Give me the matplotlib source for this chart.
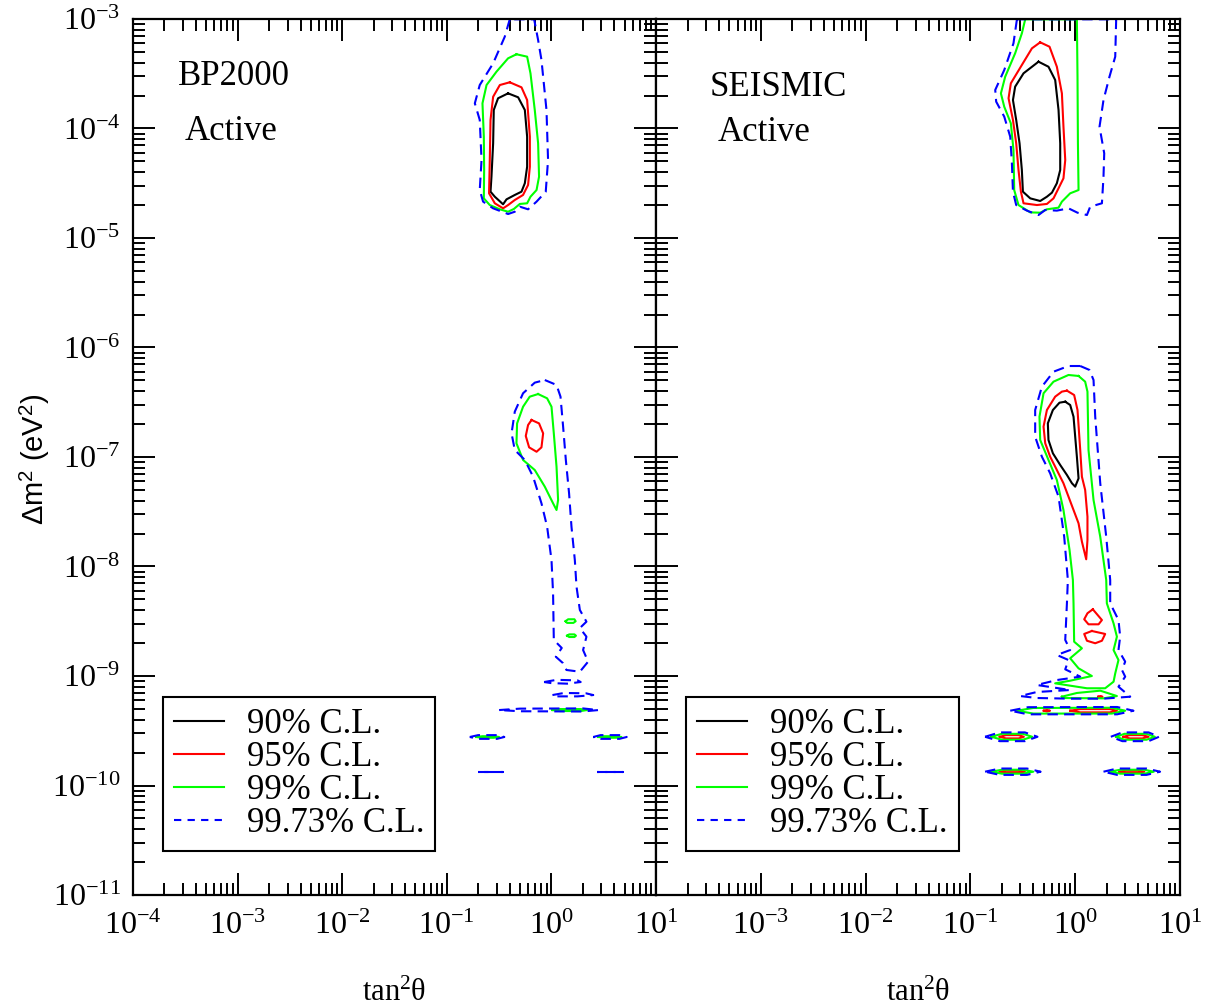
import numpy as np
import matplotlib
matplotlib.use("Agg")
import matplotlib.pyplot as plt
from matplotlib.lines import Line2D
from matplotlib.ticker import LogLocator, NullFormatter

plt.rcParams['font.family'] = ['Liberation Serif', 'DejaVu Serif']
plt.rcParams['mathtext.fontset'] = 'custom'
plt.rcParams['mathtext.rm'] = 'Liberation Serif'
plt.rcParams['mathtext.it'] = 'Liberation Serif:italic'
plt.rcParams['mathtext.sf'] = 'Liberation Sans'

# Contour loops, as (log10 tan^2(theta), log10 dm^2 [eV^2])

# ---- BP2000, active
bp_90 = [
    [(-0.414, -3.679), (-0.318, -3.715), (-0.254, -3.831), (-0.232, -4.075), (-0.232, -4.349),
     (-0.254, -4.500), (-0.286, -4.577), (-0.350, -4.607), (-0.429, -4.647), (-0.462, -4.692),
     (-0.541, -4.623), (-0.582, -4.577), (-0.573, -4.440), (-0.557, -4.135), (-0.551, -3.831),
     (-0.510, -3.724)],
]
bp_95 = [
    [(-0.398, -3.578), (-0.286, -3.624), (-0.232, -3.740), (-0.206, -4.075), (-0.206, -4.349),
     (-0.223, -4.516), (-0.271, -4.607), (-0.350, -4.653), (-0.414, -4.699), (-0.462, -4.729),
     (-0.541, -4.683), (-0.596, -4.592), (-0.589, -4.288), (-0.582, -3.922), (-0.557, -3.710),
     (-0.493, -3.603)],
    [(-0.190, -6.662), (-0.118, -6.693), (-0.079, -6.784), (-0.095, -6.912), (-0.142, -6.952),
     (-0.213, -6.912), (-0.245, -6.808), (-0.223, -6.708)],
]
bp_99 = [
    [(-0.334, -3.322), (-0.232, -3.344), (-0.200, -3.496), (-0.159, -3.831), (-0.127, -4.135),
     (-0.118, -4.440), (-0.142, -4.562), (-0.200, -4.623), (-0.232, -4.683), (-0.302, -4.689),
     (-0.359, -4.735), (-0.414, -4.760), (-0.493, -4.738), (-0.589, -4.699), (-0.646, -4.638),
     (-0.643, -4.379), (-0.646, -4.075), (-0.659, -3.770), (-0.620, -3.603), (-0.525, -3.481),
     (-0.414, -3.359)],
    [(-0.127, -6.425), (-0.041, -6.464), (0.001, -6.541), (0.023, -6.784), (0.049, -7.089),
     (0.064, -7.393), (0.049, -7.484), (0.016, -7.423), (-0.063, -7.271), (-0.159, -7.119),
     (-0.271, -7.027), (-0.334, -6.875), (-0.328, -6.693), (-0.271, -6.541), (-0.207, -6.449)],
    [(0.135, -8.500), (0.160, -8.482), (0.220, -8.482), (0.232, -8.500), (0.210, -8.515), (0.150, -8.515)],
    [(0.150, -8.632), (0.170, -8.620), (0.220, -8.620), (0.235, -8.632), (0.220, -8.644), (0.170, -8.644)],
    [(0.01, -9.311), (0.08, -9.302), (0.28, -9.302), (0.34, -9.311), (0.28, -9.320), (0.08, -9.320)],
    [(-0.72, -9.557), (-0.66, -9.550), (-0.55, -9.550), (-0.50, -9.557), (-0.55, -9.564), (-0.66, -9.564)],
    [(0.45, -9.557), (0.50, -9.550), (0.62, -9.550), (0.67, -9.557), (0.62, -9.564), (0.50, -9.564)],
]
bp_9973 = [
    [(-0.398, -3.003), (-0.446, -3.162), (-0.557, -3.405), (-0.685, -3.603), (-0.732, -3.770),
     (-0.685, -3.922), (-0.668, -4.288), (-0.685, -4.562), (-0.653, -4.668), (-0.557, -4.729),
     (-0.414, -4.781), (-0.350, -4.760), (-0.302, -4.714), (-0.223, -4.738), (-0.142, -4.668),
     (-0.054, -4.577), (-0.032, -4.288), (-0.047, -3.831), (-0.095, -3.374), (-0.127, -3.192),
     (-0.165, -3.003)],
    [(-0.063, -6.297), (0.049, -6.342), (0.087, -6.449), (0.112, -6.723), (0.138, -7.027),
     (0.169, -7.332), (0.192, -7.637), (0.224, -7.941), (0.240, -8.184), (0.272, -8.397),
     (0.335, -8.504), (0.272, -8.562), (0.335, -8.641), (0.303, -8.763), (0.351, -8.869),
     (0.272, -8.961), (0.144, -8.945), (0.109, -8.881), (0.042, -8.824), (0.099, -8.744),
     (0.023, -8.671), (0.016, -8.245), (0.001, -7.941), (-0.041, -7.637), (-0.095, -7.423),
     (-0.175, -7.180), (-0.254, -7.027), (-0.350, -6.936), (-0.381, -6.784), (-0.350, -6.586),
     (-0.271, -6.418), (-0.159, -6.321)],
    [(-0.07, -9.055), (0.05, -9.035), (0.25, -9.040), (0.28, -9.055), (0.15, -9.070), (0.00, -9.065)],
    [(0.01, -9.174), (0.12, -9.155), (0.33, -9.158), (0.40, -9.174), (0.25, -9.186), (0.05, -9.186)],
    [(-0.50, -9.311), (-0.30, -9.298), (0.30, -9.296), (0.45, -9.311), (0.30, -9.324), (-0.30, -9.322)],
    [(-0.78, -9.557), (-0.70, -9.540), (-0.52, -9.540), (-0.45, -9.557), (-0.52, -9.574), (-0.70, -9.574)],
    [(0.40, -9.557), (0.47, -9.540), (0.65, -9.540), (0.72, -9.557), (0.65, -9.574), (0.47, -9.574)],
    [(-0.70, -9.877), (-0.465, -9.877)],
    [(0.44, -9.877), (0.68, -9.877)],
]

# ---- SEISMIC, active
se_90 = [
    [(-0.350, -3.390), (-0.255, -3.436), (-0.191, -3.557), (-0.159, -3.831), (-0.143, -4.135),
     (-0.143, -4.379), (-0.175, -4.500), (-0.222, -4.586), (-0.270, -4.623), (-0.334, -4.662),
     (-0.429, -4.638), (-0.499, -4.577), (-0.509, -4.379), (-0.531, -4.135), (-0.563, -3.922),
     (-0.594, -3.740), (-0.573, -3.618), (-0.493, -3.496)],
    [(-0.095, -6.495), (-0.048, -6.525), (-0.016, -6.632), (0.000, -6.815), (0.016, -6.997),
     (0.032, -7.195), (0.000, -7.271), (-0.031, -7.240), (-0.079, -7.164), (-0.143, -7.073),
     (-0.213, -6.966), (-0.255, -6.845), (-0.261, -6.692), (-0.213, -6.571), (-0.150, -6.504)],
]
se_95 = [
    [(-0.334, -3.213), (-0.245, -3.253), (-0.175, -3.436), (-0.127, -3.679), (-0.112, -3.984),
     (-0.095, -4.288), (-0.112, -4.455), (-0.159, -4.546), (-0.207, -4.638), (-0.270, -4.689),
     (-0.365, -4.699), (-0.493, -4.683), (-0.518, -4.577), (-0.541, -4.379), (-0.563, -4.135),
     (-0.594, -3.922), (-0.636, -3.724), (-0.614, -3.587), (-0.509, -3.420), (-0.413, -3.268)],
    [(-0.079, -6.394), (-0.010, -6.434), (0.022, -6.571), (0.048, -6.936), (0.064, -7.180),
     (0.095, -7.301), (0.117, -7.545), (0.117, -7.758), (0.105, -7.934), (0.064, -7.773),
     (0.032, -7.606), (-0.016, -7.484), (-0.064, -7.362), (-0.112, -7.240), (-0.175, -7.119),
     (-0.239, -6.997), (-0.286, -6.875), (-0.302, -6.723), (-0.270, -6.571), (-0.191, -6.449),
     (-0.127, -6.403)],
    [(0.168, -8.391), (0.255, -8.489), (0.223, -8.528), (0.127, -8.528), (0.086, -8.482), (0.117, -8.427)],
    [(0.159, -8.589), (0.286, -8.616), (0.255, -8.678), (0.191, -8.701), (0.112, -8.678), (0.086, -8.616)],
    [(0.22, -9.189), (0.24, -9.183), (0.26, -9.189), (0.24, -9.195)],
    [(-0.048, -9.317), (0.05, -9.302), (0.33, -9.302), (0.398, -9.317), (0.33, -9.332), (0.05, -9.332)],
    [(-0.30, -9.317), (-0.27, -9.310), (-0.24, -9.317), (-0.27, -9.324)],
    [(-0.72, -9.555), (-0.66, -9.540), (-0.54, -9.540), (-0.49, -9.555), (-0.54, -9.570), (-0.66, -9.570)],
    [(0.46, -9.555), (0.52, -9.540), (0.64, -9.540), (0.70, -9.555), (0.64, -9.570), (0.52, -9.570)],
    [(-0.72, -9.874), (-0.66, -9.864), (-0.54, -9.864), (-0.48, -9.874), (-0.54, -9.884), (-0.66, -9.884)],
    [(0.42, -9.874), (0.48, -9.864), (0.60, -9.864), (0.66, -9.874), (0.60, -9.884), (0.48, -9.884)],
]
se_99 = [
    [(-0.477, -3.003), (-0.509, -3.131), (-0.573, -3.313), (-0.668, -3.527), (-0.709, -3.679),
     (-0.677, -3.801), (-0.614, -3.953), (-0.589, -4.196), (-0.582, -4.562), (-0.541, -4.699),
     (-0.429, -4.766), (-0.334, -4.769), (-0.270, -4.738), (-0.159, -4.723), (-0.127, -4.668),
     (-0.048, -4.592), (0.032, -4.562), (0.026, -4.135), (0.022, -3.527), (0.016, -3.003)],
    [(0.032, -6.260), (0.095, -6.312), (0.117, -6.403), (0.127, -6.936), (0.175, -7.393),
     (0.239, -7.728), (0.296, -8.123), (0.302, -8.336), (0.366, -8.519), (0.398, -8.641),
     (0.366, -8.763), (0.413, -8.854), (0.382, -8.976), (0.366, -9.052), (0.286, -9.112),
     (0.112, -9.112), (-0.191, -9.067), (-0.048, -9.043), (0.159, -9.000), (0.032, -8.930),
     (-0.048, -8.838), (0.064, -8.747), (-0.010, -8.687), (-0.016, -8.336), (-0.022, -8.123),
     (-0.054, -7.849), (-0.112, -7.484), (-0.175, -7.210), (-0.255, -7.027), (-0.334, -6.845),
     (-0.341, -6.632), (-0.302, -6.418), (-0.207, -6.312), (-0.064, -6.251)],
    [(-0.127, -9.189), (0.016, -9.155), (0.239, -9.134), (0.398, -9.183), (0.270, -9.204), (-0.112, -9.201)],
    [(-0.556, -9.317), (-0.40, -9.292), (0.35, -9.290), (0.477, -9.317), (0.35, -9.343), (-0.40, -9.343)],
    [(-0.80, -9.555), (-0.70, -9.528), (-0.50, -9.528), (-0.41, -9.555), (-0.50, -9.582), (-0.70, -9.582)],
    [(0.39, -9.555), (0.47, -9.528), (0.68, -9.528), (0.76, -9.555), (0.68, -9.582), (0.47, -9.582)],
    [(-0.80, -9.874), (-0.70, -9.856), (-0.50, -9.856), (-0.40, -9.874), (-0.50, -9.892), (-0.70, -9.892)],
    [(0.33, -9.874), (0.43, -9.856), (0.66, -9.856), (0.75, -9.874), (0.66, -9.892), (0.43, -9.892)],
]
se_9973 = [
    [(-0.556, -3.003), (-0.589, -3.222), (-0.677, -3.466), (-0.763, -3.648), (-0.754, -3.755),
     (-0.677, -3.892), (-0.620, -4.075), (-0.604, -4.318), (-0.594, -4.577), (-0.563, -4.699),
     (-0.461, -4.750), (-0.350, -4.790), (-0.286, -4.744), (-0.175, -4.750), (-0.064, -4.729),
     (0.022, -4.769), (0.112, -4.790), (0.143, -4.714), (0.255, -4.683), (0.270, -4.440),
     (0.277, -4.227), (0.232, -3.984), (0.270, -3.740), (0.327, -3.527), (0.382, -3.344),
     (0.391, -3.003)],
    [(0.048, -6.169), (0.136, -6.205), (0.175, -6.297), (0.191, -6.632), (0.239, -7.240),
     (0.296, -7.728), (0.334, -8.123), (0.334, -8.336), (0.413, -8.489), (0.429, -8.641),
     (0.413, -8.763), (0.477, -8.869), (0.446, -8.945), (0.477, -9.006), (0.413, -9.098),
     (0.525, -9.189), (0.270, -9.207), (-0.048, -9.207), (-0.366, -9.201), (-0.525, -9.183),
     (-0.366, -9.146), (-0.048, -9.128), (-0.366, -9.082), (-0.175, -9.037), (0.048, -9.006),
     (-0.095, -8.939), (-0.064, -8.854), (-0.175, -8.808), (-0.048, -8.763), (-0.095, -8.671),
     (-0.079, -8.336), (-0.070, -8.123), (-0.105, -7.728), (-0.159, -7.362), (-0.239, -7.149),
     (-0.318, -6.997), (-0.382, -6.815), (-0.382, -6.571), (-0.318, -6.358), (-0.207, -6.221),
     (-0.064, -6.169)],
    [(-0.620, -9.317), (-0.45, -9.285), (0.40, -9.283), (0.556, -9.317), (0.40, -9.350), (-0.45, -9.350)],
    [(-0.86, -9.555), (-0.72, -9.515), (-0.48, -9.515), (-0.36, -9.555), (-0.48, -9.595), (-0.72, -9.595)],
    [(0.34, -9.555), (0.45, -9.515), (0.70, -9.515), (0.80, -9.555), (0.70, -9.595), (0.45, -9.595)],
    [(-0.86, -9.874), (-0.72, -9.845), (-0.46, -9.845), (-0.33, -9.874), (-0.46, -9.903), (-0.72, -9.903)],
    [(0.27, -9.874), (0.40, -9.845), (0.68, -9.845), (0.81, -9.874), (0.68, -9.903), (0.40, -9.903)],
]

cl_labels = ['90% C.L.', '95% C.L.', '99% C.L.', '99.73% C.L.']
cl_colors = ['black', '#ff0000', '#00ff00', '#0000ff']
x_ticks = [1e-4, 1e-3, 1e-2, 1e-1, 1e0, 1e1]
x_ticklabels = ['$10^{-4}$', '$10^{-3}$', '$10^{-2}$', '$10^{-1}$', '$10^{0}$', '$10^{1}$']
y_ticks = [1e-11, 1e-10, 1e-9, 1e-8, 1e-7, 1e-6, 1e-5, 1e-4, 1e-3]
y_ticklabels = ['$10^{-11}$', '$10^{-10}$', '$10^{-9}$', '$10^{-8}$', '$10^{-7}$',
                '$10^{-6}$', '$10^{-5}$', '$10^{-4}$', '$10^{-3}$']

blue_dash = (0, (5, 3))


def draw(ax, loops, color, ls='-'):
    for loop in loops:
        pts = np.array(loop + [loop[0]])
        ax.plot(10 ** pts[:, 0], 10 ** pts[:, 1], color=color, lw=1.5, ls=ls)


def setup(ax, show_ylabels, xlabels):
    ax.set_xscale('log')
    ax.set_yscale('log')
    ax.set_xlim(1e-4, 1e1)
    ax.set_ylim(1e-11, 1e-3)
    ax.set_xticks(x_ticks)
    ax.set_xticklabels(xlabels)
    ax.set_yticks(y_ticks)
    ax.set_yticklabels(y_ticklabels if show_ylabels else [])
    ax.xaxis.set_minor_locator(LogLocator(base=10, subs=np.arange(2, 10), numticks=30))
    ax.yaxis.set_minor_locator(LogLocator(base=10, subs=np.arange(2, 10), numticks=30))
    ax.xaxis.set_minor_formatter(NullFormatter())
    ax.yaxis.set_minor_formatter(NullFormatter())
    ax.tick_params(which='both', direction='in', top=True, right=True, width=1.4, labelsize=23)
    ax.tick_params(which='major', length=16)
    ax.tick_params(axis='x', which='major', pad=12)
    ax.tick_params(axis='y', which='major', pad=9)
    ax.tick_params(which='minor', length=8.5)
    ax.tick_params(axis='y', labelleft=show_ylabels)
    for s in ax.spines.values():
        s.set_linewidth(1.6)


fig = plt.figure(figsize=(12.08, 10.08), dpi=100)
ax1 = fig.add_axes([133 / 1208, 113 / 1008, 523 / 1208, 876 / 1008])
ax2 = fig.add_axes([656 / 1208, 113 / 1008, 524 / 1208, 876 / 1008])

setup(ax1, True, x_ticklabels)
setup(ax2, False, [''] + x_ticklabels[1:])

for ax, sets in [(ax1, [bp_90, bp_95, bp_99, bp_9973]), (ax2, [se_90, se_95, se_99, se_9973])]:
    draw(ax, sets[0], cl_colors[0])
    draw(ax, sets[1], cl_colors[1])
    draw(ax, sets[2], cl_colors[2])
    draw(ax, sets[3], cl_colors[3], blue_dash)

ax1.text(0.086, 0.934, 'BP2000', transform=ax1.transAxes, fontsize=25, va='center', ha='left')
ax1.text(0.099, 0.872, 'Active', transform=ax1.transAxes, fontsize=25, va='center', ha='left')
ax2.text(0.103, 0.922, 'SEISMIC', transform=ax2.transAxes, fontsize=25, va='center', ha='left')
ax2.text(0.118, 0.870, 'Active', transform=ax2.transAxes, fontsize=25, va='center', ha='left')

handles = [Line2D([], [], color=cl_colors[0], lw=1.5),
           Line2D([], [], color=cl_colors[1], lw=1.5),
           Line2D([], [], color=cl_colors[2], lw=1.5),
           Line2D([], [], color=cl_colors[3], lw=1.5, ls=(0, (3.5, 3)))]
for ax in (ax1, ax2):
    leg = ax.legend(handles, cl_labels, loc='lower left', bbox_to_anchor=(0.057, 0.05),
                    borderaxespad=0, fontsize=25, handlelength=1.44, handletextpad=0.66,
                    labelspacing=0.0, borderpad=0.32, fancybox=False, framealpha=1,
                    edgecolor='black')
    leg.get_frame().set_linewidth(1.5)

fig.text(0.029, 0.544, r'Δm$^\mathsf{2}$ (eV$^\mathsf{2}$)', rotation=90, fontsize=21,
         family=['Liberation Sans', 'DejaVu Sans'], ha='center', va='center')
fig.text((133 + 261) / 1208, 0.014, r'tan$^2$θ', fontsize=22, ha='center', va='center')
fig.text((656 + 262) / 1208, 0.014, r'tan$^2$θ', fontsize=22, ha='center', va='center')

fig.savefig('out.png', dpi=100)
